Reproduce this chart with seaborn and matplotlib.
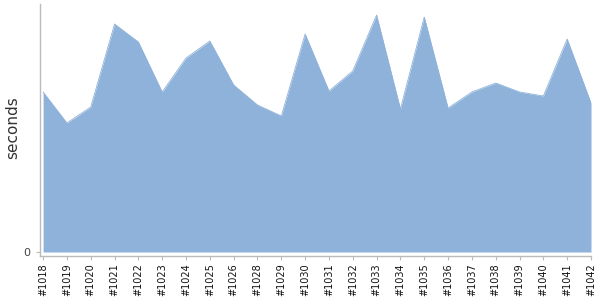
import matplotlib
matplotlib.use("Agg")
import matplotlib.pyplot as plt
import seaborn as sns
import numpy as np
import pandas as pd

builds = ["#1018", "#1019", "#1020", "#1021", "#1022", "#1023", "#1024", "#1025",
          "#1026", "#1028", "#1029", "#1030", "#1031", "#1032", "#1033", "#1034",
          "#1035", "#1036", "#1037", "#1038", "#1039", "#1040", "#1041", "#1042"]
seconds = [160, 129, 145, 228, 210, 160, 194, 211,
           167, 147, 136, 218, 161, 181, 237, 143,
           235, 144, 160, 169, 160, 156, 213, 149]

sns.set_style("white")
df = pd.DataFrame({"build": builds, "seconds": seconds})
df["pos"] = np.arange(len(builds))

fig = plt.figure(figsize=(6, 3), dpi=100)
ax = fig.add_axes([40/600, 1 - 256/300, 551/600, 252/300])

color = "#8FB2DA"
sns.lineplot(data=df, x="pos", y="seconds", ax=ax, color=color, linewidth=0.6)
ax.fill_between(df["pos"], df["seconds"], 0, color=color, linewidth=0)

ax.set_xlim(-0.13, len(builds) - 1)
ax.set_ylim(-4, 248)
ax.set_xticks(df["pos"])
ax.set_xticklabels(builds, rotation=90, fontsize=7, color="#111111")
ax.set_yticks([0])
ax.set_yticklabels(["0"], fontsize=8, color="#444444")
ax.set_xlabel("")
ax.set_ylabel("seconds", fontsize=11, color="#333333")
ax.yaxis.set_label_coords(-0.036, 0.51)

for s in ["top", "right"]:
    ax.spines[s].set_visible(False)
ax.spines["left"].set_color("#bbbbbb")
ax.spines["bottom"].set_color("#bbbbbb")
ax.spines["left"].set_linewidth(1)
ax.spines["bottom"].set_linewidth(1)
ax.tick_params(axis="x", length=3, color="#bbbbbb", pad=2, bottom=True)
ax.tick_params(axis="y", length=3, color="#bbbbbb", pad=4, left=True)

fig.savefig("out.png", dpi=100)
